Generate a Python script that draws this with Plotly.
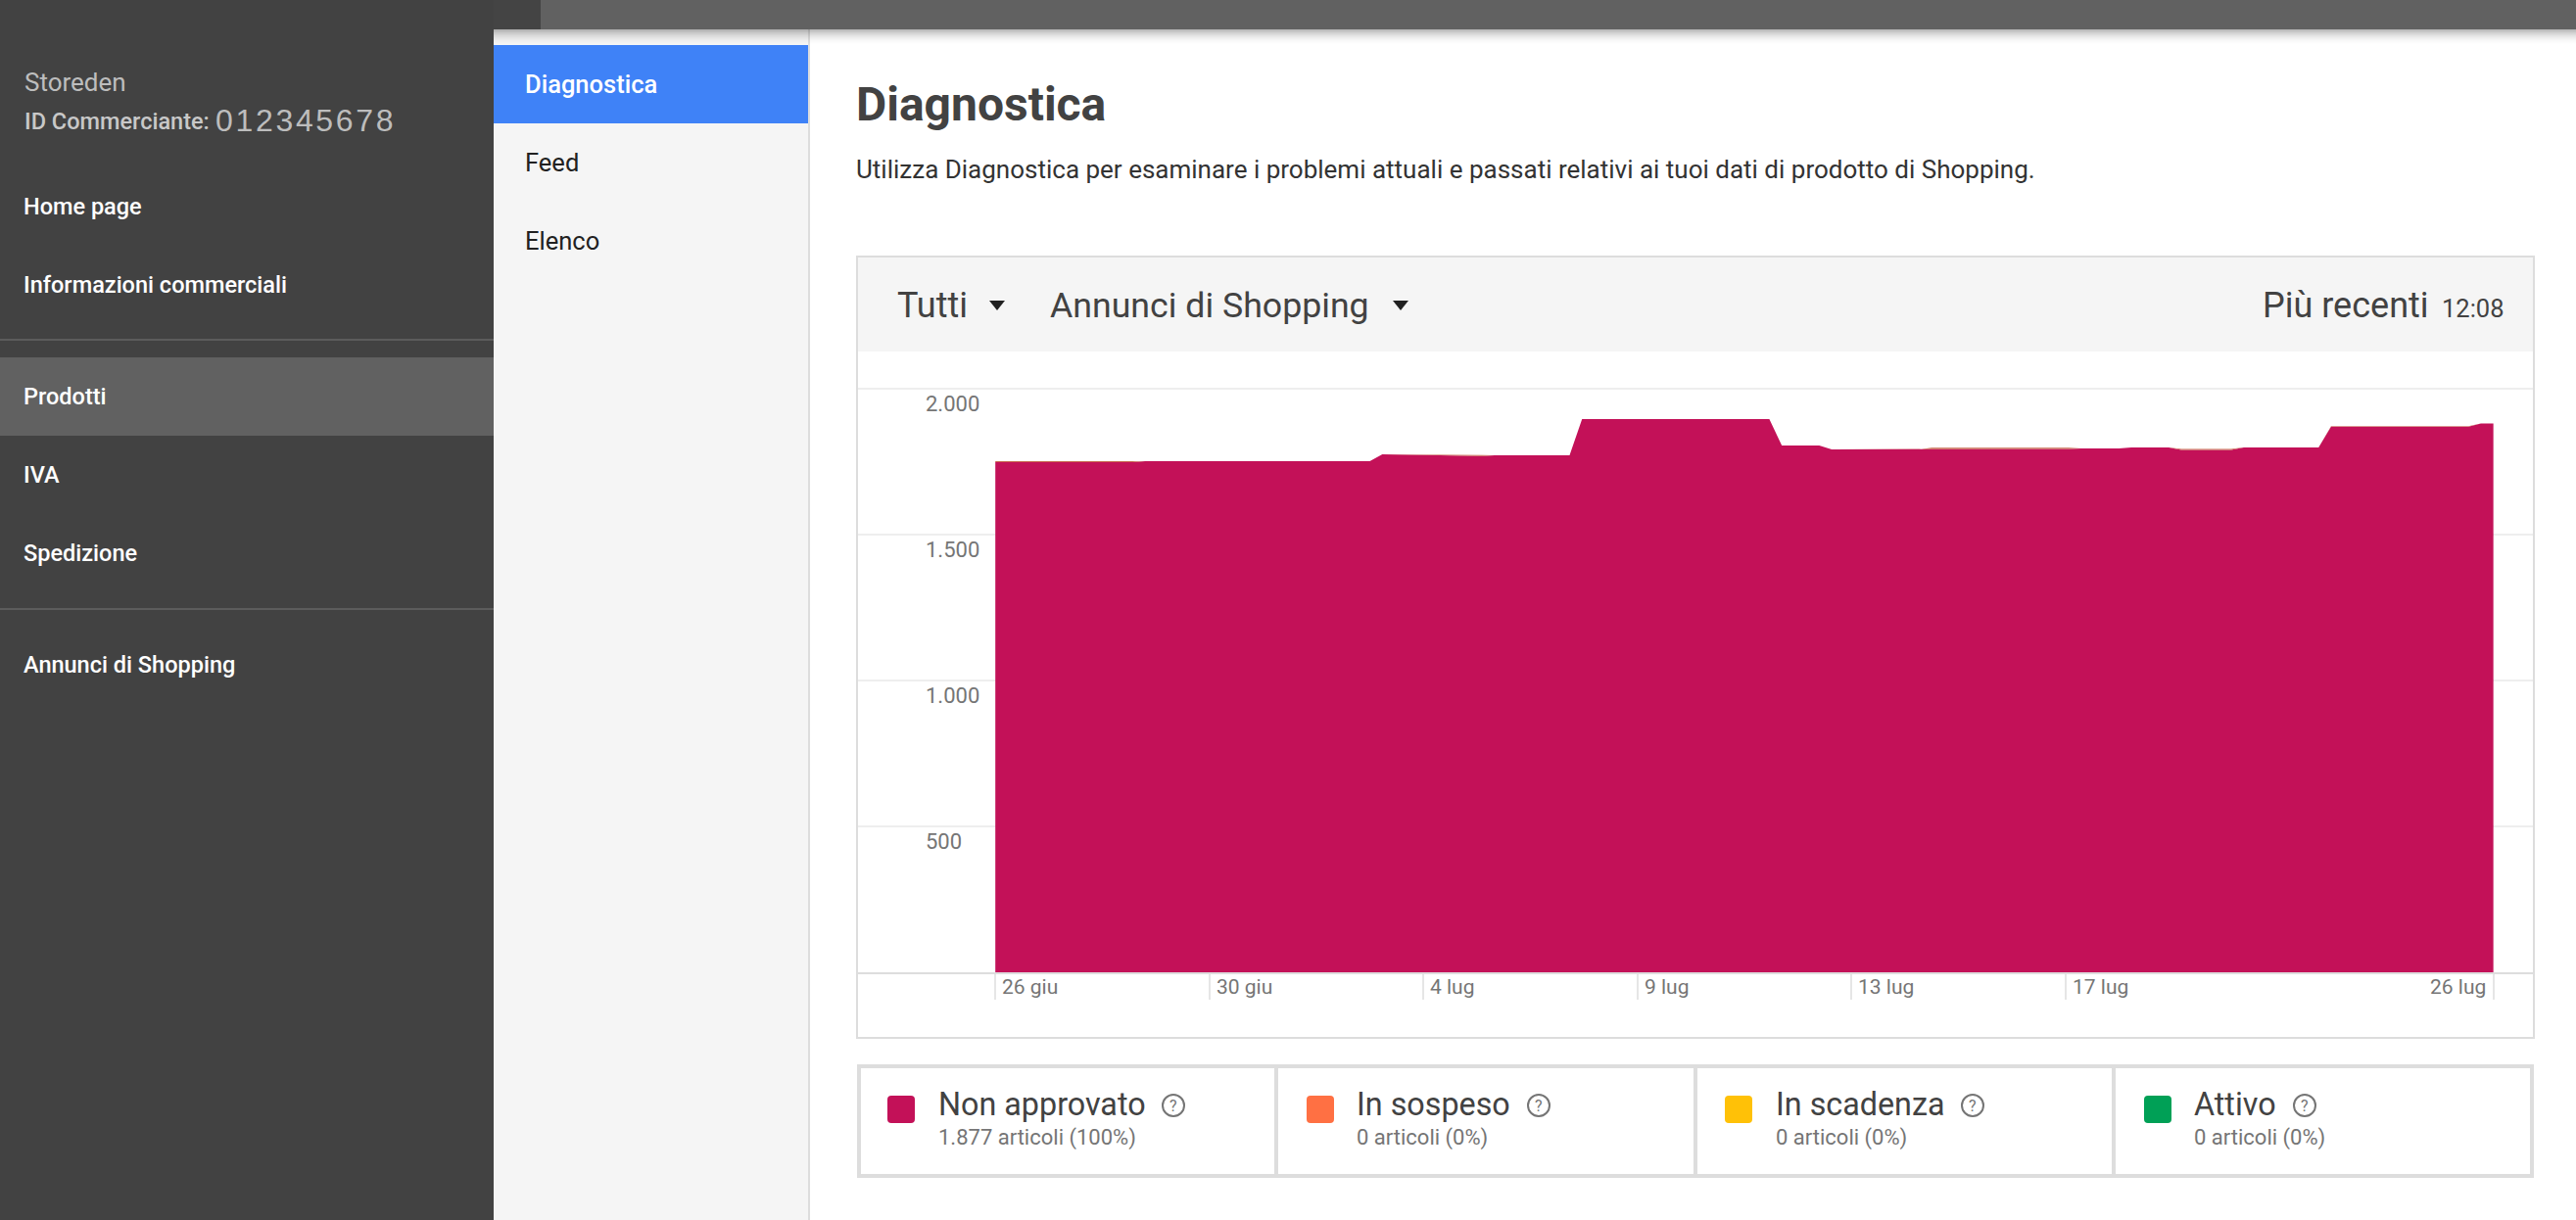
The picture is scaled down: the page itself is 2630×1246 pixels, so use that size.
import plotly.graph_objects as go

W, H = 2630, 1246

# Dati
date = ["2018-06-26 00:00", "2018-06-28 18:00", "2018-06-29 00:00", "2018-07-03 12:00", "2018-07-03 18:00",
        "2018-07-04 18:00", "2018-07-05 18:00", "2018-07-06 00:00", "2018-07-07 12:00", "2018-07-07 18:00",
        "2018-07-11 12:00", "2018-07-11 18:00", "2018-07-12 12:00", "2018-07-12 18:00", "2018-07-14 12:00",
        "2018-07-14 18:00", "2018-07-17 12:00", "2018-07-17 18:00", "2018-07-18 12:00", "2018-07-18 18:00",
        "2018-07-19 12:00", "2018-07-19 18:00", "2018-07-20 18:00", "2018-07-21 00:00", "2018-07-22 12:00",
        "2018-07-22 18:00", "2018-07-25 12:00", "2018-07-25 18:00", "2018-07-26 00:00"]
non_approvato = [1748, 1748, 1752, 1752, 1775, 1771, 1769, 1772, 1772, 1896, 1896, 1805, 1805, 1792, 1792,
                 1794, 1794, 1795, 1795, 1799, 1799, 1790, 1790, 1799, 1799, 1870, 1870, 1881, 1881]
in_sospeso = [4, 4, 0, 0, 0, 4, 4, 0, 0, 0, 0, 0, 0, 0, 0,
              4, 4, 0, 0, 0, 0, 4, 4, 0, 0, 2, 2, 0, 0]

y_ticks = [500, 1000, 1500, 2000]
y_labels = ["500", "1.000", "1.500", "2.000"]
x_ticks = ["2018-06-26 00:00", "2018-06-30 06:51", "2018-07-04 13:43", "2018-07-08 20:34",
           "2018-07-13 03:26", "2018-07-17 10:17", "2018-07-26 00:00"]
x_labels = ["26 giu", "30 giu", "4 lug", "9 lug", "13 lug", "17 lug", "26 lug"]

stati = ["Non approvato", "In sospeso", "In scadenza", "Attivo"]
articoli = ["1.877 articoli (100%)", "0 articoli (0%)", "0 articoli (0%)", "0 articoli (0%)"]
colori = ["#c31158", "#ff7043", "#ffc107", "#00a056"]

menu = ["Home page", "Informazioni commerciali", "Prodotti", "IVA", "Spedizione", "Annunci di Shopping"]
menu_y = [211, 291, 405, 485, 565, 679]
sottomenu = ["Diagnostica", "Feed", "Elenco"]
sottomenu_y = [86, 166, 246]

# posizioni della legenda: quadrato, testo, icona
swatch_x = [906, 1334, 1761, 2189]
label_x = [958, 1385, 1813, 2240]
help_x = [1198, 1571, 2014, 2353]


def px(x):
    return x / W


def py(y):
    return 1 - y / H


shapes = []
annotations = []


def rect(x0, y0, x1, y1, color, line=None):
    shapes.append(dict(type="rect", xref="paper", yref="paper", layer="below",
                       x0=px(x0), x1=px(x1), y0=py(y0), y1=py(y1), fillcolor=color,
                       line=dict(width=0) if line is None else dict(color=line, width=2)))


def text(x, y, s, size, color, anchor="left", weight=400, family="Roboto"):
    annotations.append(dict(xref="paper", yref="paper", x=px(x), y=py(y), text=s, showarrow=False,
                            xanchor=anchor, yanchor="middle", borderpad=0, borderwidth=0,
                            font=dict(family=family, size=size, color=color, weight=weight)))


def triangle(cx, cy):
    path = f"M {px(cx - 8)} {py(cy - 5)} L {px(cx + 8)} {py(cy - 5)} L {px(cx)} {py(cy + 5)} Z"
    shapes.append(dict(type="path", xref="paper", yref="paper", path=path, fillcolor="#212121", line=dict(width=0)))


def rounded(x0, y0, x1, y1, r, color):
    path = (f"M {px(x0 + r)} {py(y0)} L {px(x1 - r)} {py(y0)} Q {px(x1)} {py(y0)} {px(x1)} {py(y0 + r)} "
            f"L {px(x1)} {py(y1 - r)} Q {px(x1)} {py(y1)} {px(x1 - r)} {py(y1)} "
            f"L {px(x0 + r)} {py(y1)} Q {px(x0)} {py(y1)} {px(x0)} {py(y1 - r)} "
            f"L {px(x0)} {py(y0 + r)} Q {px(x0)} {py(y0)} {px(x0 + r)} {py(y0)} Z")
    shapes.append(dict(type="path", xref="paper", yref="paper", path=path, fillcolor=color, line=dict(width=0)))


# barra laterale e barra in alto
rect(0, 0, 504, H, "#424242")
rect(504, 0, 552, 30, "#444444")
rect(552, 0, W, 30, "#616161")
rect(504, 30, 825, H, "#f5f5f5")
rect(825, 30, 827, H, "#dddddd")
rect(504, 46, 825, 126, "#3f82f7")
for i in range(16):
    rect(504, 30 + i, W, 31 + i, f"rgba(0,0,0,{0.28 * (1 - i / 16) ** 2:.3f})")
rect(0, 346, 504, 348, "#5c5c5c")
rect(0, 365, 504, 445, "#616161")
rect(0, 621, 504, 623, "#5c5c5c")

text(25, 84, "Storeden", 26, "#bdbdbd")
text(25, 124, "ID Commerciante:", 23.5, "#c8c8c8", weight=500)
text(220, 123, "\u200a".join("012345678"), 32, "#bdbdbd", family="Liberation Sans")
for nome, y in zip(menu, menu_y):
    text(24, y, nome, 23.5, "#ffffff", weight=500)
for i, (nome, y) in enumerate(zip(sottomenu, sottomenu_y)):
    text(536, y, nome, 25.5, "#ffffff" if i == 0 else "#212121", weight=500 if i == 0 else 400)

text(874, 106, "Diagnostica", 48, "#424242", weight=700)
text(874, 173, "Utilizza Diagnostica per esaminare i problemi attuali e passati relativi ai tuoi dati di prodotto di Shopping.",
     26, "#333333")

# riquadro del grafico
rect(875, 262, 2587, 1060, "#ffffff", "#dddddd")
rect(876, 263, 2586, 359, "#f5f5f5")
text(916, 312, "Tutti", 36, "#424242")
triangle(1018, 312)
text(1072, 312, "Annunci di Shopping", 35.7, "#424242")
triangle(1430, 312)
text(2480, 312, "Più recenti", 36, "#424242", anchor="right")
text(2557, 315, "12:08", 25.5, "#424242", anchor="right")

# legenda
rect(877, 1089, 2585, 1201, "#ffffff", "#dddddd")
rect(875, 1087, 2587, 1091, "#dddddd")
rect(875, 1199, 2587, 1203, "#dddddd")
rect(875, 1087, 879, 1203, "#dddddd")
rect(2583, 1087, 2587, 1203, "#dddddd")
for x in [1303, 1731, 2158]:
    rect(x - 2, 1087, x + 2, 1203, "#dddddd")
for i, stato in enumerate(stati):
    rounded(swatch_x[i], 1119, swatch_x[i] + 28, 1147, 4, colori[i])
    text(label_x[i], 1128, stato, 32.3, "#424242")
    text(label_x[i], 1162, articoli[i], 22, "#757575")
    shapes.append(dict(type="circle", xref="paper", yref="paper", x0=px(help_x[i] - 11), x1=px(help_x[i] + 11),
                       y0=py(1140), y1=py(1118), line=dict(color="#757575", width=2)))
    text(help_x[i], 1129, "?", 16, "#757575", anchor="center")

# etichette dell'asse x
for i, (d, lab) in enumerate(zip(x_ticks, x_labels)):
    ultimo = i == len(x_ticks) - 1
    annotations.append(dict(xref="x", yref="paper", x=d, y=py(1008), text=lab, showarrow=False,
                            xanchor="right" if ultimo else "left", xshift=-6 if ultimo else 5,
                            yanchor="middle", font=dict(family="Roboto", size=21, color="#757575")))

fig = go.Figure()
fig.add_trace(go.Scatter(x=date, y=non_approvato, name=stati[0], mode="lines", stackgroup="uno",
                         line=dict(width=0, color=colori[0]), fillcolor=colori[0]))
fig.add_trace(go.Scatter(x=date, y=in_sospeso, name=stati[1], mode="lines", stackgroup="uno",
                         line=dict(width=0, color=colori[1]), fillcolor="#c8684f"))

# un po' di margine sopra 2.000 perché la griglia in cima resti visibile
y_max = 2010
fig.update_layout(
    width=W, height=H, margin=dict(l=0, r=0, t=0, b=0), autosize=False,
    paper_bgcolor="#ffffff", plot_bgcolor="rgba(0,0,0,0)", showlegend=False, hovermode=False,
    shapes=shapes, annotations=annotations,
    font=dict(family="Roboto"),
    xaxis=dict(domain=[px(876), px(2586)], type="date", range=["2018-06-23 06:00", "2018-07-26 19:00"],
               tickvals=x_ticks, ticks="outside", ticklen=26, tickwidth=2, tickcolor="#e6e6e6",
               showticklabels=False, showgrid=False, zeroline=False,
               showline=True, linecolor="#dddddd", linewidth=2),
    yaxis=dict(domain=[py(993), py(993 - 596 * y_max / 2000)], range=[0, y_max], tickvals=y_ticks, ticktext=y_labels,
               ticks="", showgrid=True, gridcolor="#eeeeee", gridwidth=2, zeroline=False, showline=False,
               ticklabelposition="inside", ticklabelstandoff=66, ticklabelshift=15,
               tickfont=dict(family="Roboto", size=22, color="#757575")),
)

fig.write_html("out.html", config=dict(displayModeBar=False),
               post_script="document.body.style.margin='0';")
